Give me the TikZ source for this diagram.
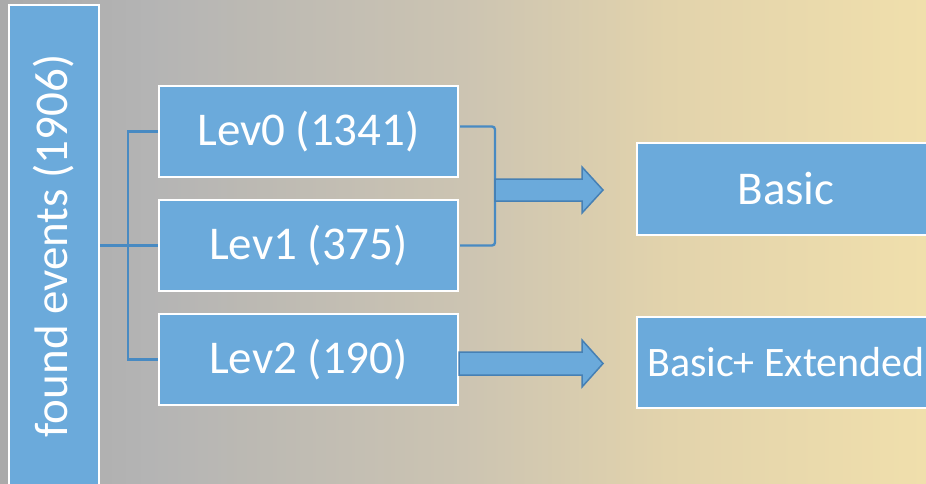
\documentclass[tikz,border=0pt]{standalone}
\usepackage{fontspec}
\setmainfont{Carlito}
\usetikzlibrary{calc}
\definecolor{boxblue}{RGB}{107,170,219}
\definecolor{lineblue}{RGB}{72,138,194}
\definecolor{arrowedge}{RGB}{70,128,180}
\definecolor{bgA}{RGB}{170,170,170}
\definecolor{bgB}{RGB}{180,180,180}
\definecolor{bgC}{RGB}{204,196,178}
\definecolor{bgD}{RGB}{226,211,172}
\definecolor{bgE}{RGB}{240,223,172}
\pgfdeclarehorizontalshading{bgshade}{100bp}{color(0bp)=(bgA); color(25bp)=(bgA); color(33bp)=(bgB); color(50bp)=(bgC); color(61bp)=(bgD); color(75bp)=(bgE); color(100bp)=(bgE)}
\tikzset{
  levbox/.style={rectangle, draw=white, line width=2pt, fill=boxblue, text=white,
    minimum width=299pt, minimum height=91pt, inner sep=0pt,
    font=\fontsize{47}{50}\selectfont},
  conn/.style={draw=lineblue, line width=2.4pt},
  bigarrow/.style={fill=boxblue, draw=arrowedge, line width=1.5pt, line join=miter}
}
\begin{document}
\begin{tikzpicture}[x=1pt,y=-1pt]
\useasboundingbox (0,0) rectangle (926,484);
\clip (0,0) rectangle (926,484);
\shade[shading=bgshade] (0,0) rectangle (926,484);
% nodes
\node[levbox, minimum width=90pt, minimum height=482pt] (found) at (54,246) {};
\node[text=white, rotate=90, font=\fontsize{47}{50}\selectfont, inner sep=0pt] (foundtxt) at (54,246) {found events (1906)};
\node[levbox] (lev0) at (308.5,131.5) {Lev0 (1341)};
\node[levbox] (lev1) at (308.5,245.5) {Lev1 (375)};
\node[levbox] (lev2) at (308.5,359.5) {Lev2 (190)};
\node[levbox] (basic) at (786,189) {Basic};
\node[levbox, font=\fontsize{42}{45}\selectfont] (ext) at (786,362.5) {Basic+ Extended};
% tree connectors
\coordinate (j) at (128,245.5);
\draw[conn] (found.east |- lev1.west) -- (lev1.west);
\draw[conn] (lev0.west) -| (j) |- (lev2.west);
% bracket
\coordinate (b1) at ($(lev0.east)+(1,-5)$);
\coordinate (b2) at ($(lev1.east)+(1,0)$);
\coordinate (bx) at (495,190);
\draw[conn, rounded corners=3pt] (b1) -- (b1 -| bx) -- (b2 -| bx) -- (b2);
% arrow 1
\coordinate (t1) at (603,190);
\draw[bigarrow] (bx |- 0,179) -- (582,179) -- (582,167) -- (t1) -- (582,213) -- (582,201) -- (bx |- 0,201) -- cycle;
% arrow 2
\coordinate (t2) at (603,363.5);
\draw[bigarrow] (459,352) -- (582,352) -- (582,340) -- (t2) -- (582,387) -- (582,375) -- (459,375) -- cycle;
\end{tikzpicture}
\end{document}
